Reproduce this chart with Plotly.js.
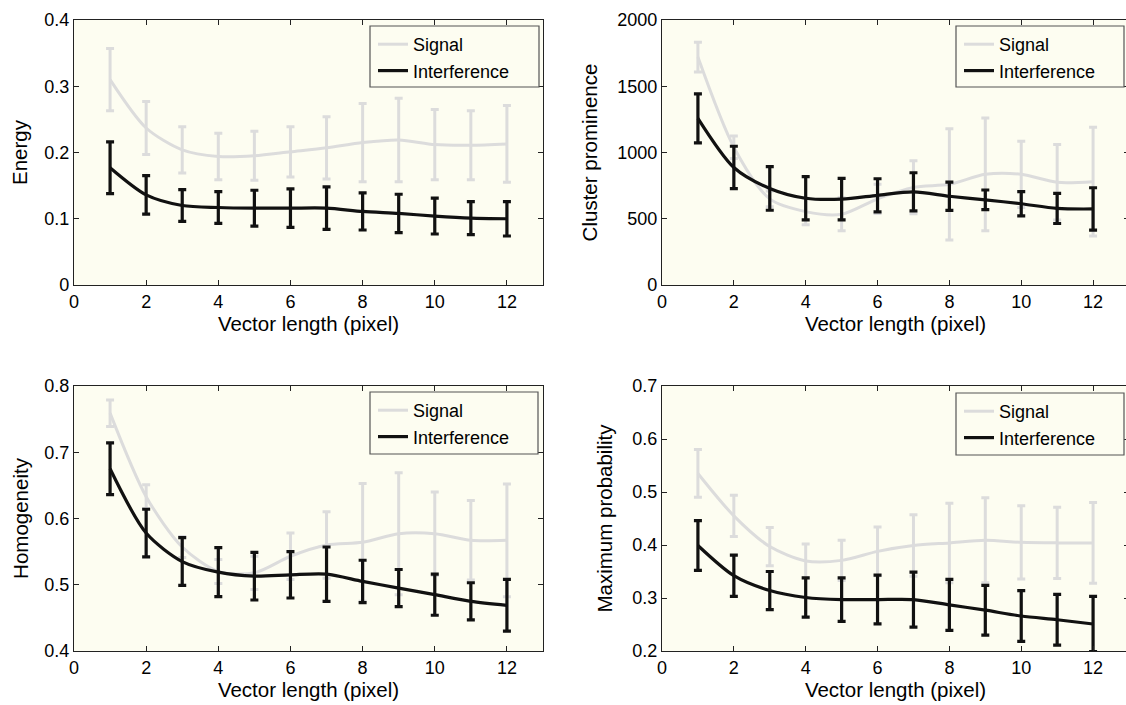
<!DOCTYPE html>
<html>
<head>
<meta charset="utf-8">
<script src="https://cdn.plot.ly/plotly-3.0.1.min.js"></script>
<style>
html,body{margin:0;padding:0;overflow:hidden;background:#fff;}
#chart{width:1130px;height:705px;}
</style>
</head>
<body>
<div id="chart"></div>
<script>
const xVals = [1,2,3,4,5,6,7,8,9,10,11,12];
const xTicks = [0,2,4,6,8,10,12];

const energySignal = [0.310,0.237,0.204,0.194,0.195,0.201,0.207,0.215,0.219,0.212,0.211,0.213];
const energySignalErr = [0.047,0.040,0.035,0.035,0.037,0.038,0.047,0.059,0.063,0.053,0.052,0.058];
const energyInterf = [0.177,0.136,0.120,0.117,0.116,0.116,0.116,0.111,0.108,0.104,0.101,0.100];
const energyInterfErr = [0.039,0.029,0.024,0.024,0.027,0.029,0.032,0.028,0.029,0.027,0.025,0.026];

const clusterSignal = [1720,1040,650,554,534,650,737,760,835,835,775,780];
const clusterSignalErr = [112,85,60,100,125,110,200,420,426,250,285,410];
const clusterInterf = [1258,887,729,655,648,677,703,670,643,613,578,574];
const clusterInterfErr = [185,160,165,163,157,125,144,107,74,92,114,160];

const homSignal = [0.759,0.633,0.557,0.520,0.518,0.543,0.560,0.564,0.577,0.577,0.567,0.567];
const homSignalErr = [0.020,0.018,0.016,0.018,0.025,0.035,0.050,0.089,0.092,0.063,0.060,0.085];
const homInterf = [0.675,0.578,0.535,0.519,0.513,0.515,0.516,0.505,0.495,0.485,0.475,0.469];
const homInterfErr = [0.039,0.036,0.036,0.037,0.036,0.035,0.041,0.032,0.028,0.031,0.028,0.039];

const maxSignal = [0.535,0.455,0.397,0.370,0.371,0.388,0.399,0.404,0.409,0.405,0.404,0.404];
const maxSignalErr = [0.045,0.039,0.036,0.032,0.038,0.046,0.058,0.075,0.080,0.069,0.067,0.076];
const maxInterf = [0.399,0.342,0.314,0.301,0.297,0.297,0.297,0.287,0.277,0.266,0.259,0.251];
const maxInterfErr = [0.047,0.039,0.036,0.037,0.041,0.046,0.052,0.048,0.047,0.048,0.048,0.052];

const seriesNames = ["Signal","Interference"];
const panelTitles = ["Energy","Cluster prominence","Homogeneity","Maximum probability"];
const xTitle = "Vector length (pixel)";

const W = 1130, H = 705;
const GRAY = "#dcdcdc", BLACK = "#111111", BG = "#fdfdf1";

const panels = [
  {sig: energySignal, sigE: energySignalErr, int: energyInterf, intE: energyInterfErr, range:[0,0.4], dtick:0.1},
  {sig: clusterSignal, sigE: clusterSignalErr, int: clusterInterf, intE: clusterInterfErr, range:[0,2000], dtick:500},
  {sig: homSignal, sigE: homSignalErr, int: homInterf, intE: homInterfErr, range:[0.4,0.8], dtick:0.1},
  {sig: maxSignal, sigE: maxSignalErr, int: maxInterf, intE: maxInterfErr, range:[0.2,0.7], dtick:0.1}
];

// pixel boxes [left,right,top,bottom]
const boxes = [[74,543,20,285],[662,1129,20,285],[74,543,386,651],[662,1129,386,651]];
// legend frames [left,right,top,bottom]
const legendBoxes = [[370,539,26,87],[956,1124,26,87],[370,538,392,454],[956,1124,393,455]];
const yStandoff = [11, 14, 10, 14];

const traces = [];
const shapes = [];
const layout = {
  width: W, height: H,
  margin: {l:0,r:0,t:0,b:0},
  paper_bgcolor: "#ffffff",
  plot_bgcolor: BG,
  font: {family: "Liberation Sans, Arial, sans-serif", color: "#000", size: 18},
  showlegend: true
};

panels.forEach((p, i) => {
  const n = i + 1;
  const sfx = n === 1 ? "" : String(n);
  const xa = "x" + sfx, ya = "y" + sfx;
  const lg = "legend" + sfx;
  traces.push({
    x: xVals, y: p.sig, type: "scatter", mode: "lines", name: seriesNames[0],
    xaxis: xa, yaxis: ya, legend: lg,
    line: {color: GRAY, width: 3, shape: "spline", smoothing: 0.8},
    error_y: {type: "data", array: p.sigE, visible: true, color: GRAY, thickness: 3, width: 4}
  });
  traces.push({
    x: xVals, y: p.int, type: "scatter", mode: "lines", name: seriesNames[1],
    xaxis: xa, yaxis: ya, legend: lg,
    line: {color: BLACK, width: 3.2, shape: "spline", smoothing: 0.8},
    error_y: {type: "data", array: p.intE, visible: true, color: BLACK, thickness: 3.2, width: 4}
  });
  const b = boxes[i];
  const axCommon = {
    showline: true, linecolor: "#222", linewidth: 1.2, mirror: "ticks",
    ticks: "inside", ticklen: 5, tickcolor: "#222", tickwidth: 1,
    showgrid: false, zeroline: false, fixedrange: true,
    tickfont: {size: 18, color: "#000"}
  };
  layout["xaxis" + sfx] = Object.assign({}, axCommon, {
    domain: [b[0]/W, b[1]/W], anchor: ya, range: [0,13],
    tickvals: xTicks, ticktext: xTicks.map(String),
    title: {text: xTitle, font: {size: 20.5}, standoff: 4}
  });
  layout["yaxis" + sfx] = Object.assign({}, axCommon, {
    domain: [(H-b[3])/H, (H-b[2])/H], anchor: xa, range: p.range, dtick: p.dtick,
    title: {text: panelTitles[i], font: {size: 20.5}, standoff: yStandoff[i]}
  });
  const lb = legendBoxes[i];
  shapes.push({
    type: "rect", xref: "paper", yref: "paper", layer: "above",
    x0: lb[0]/W, x1: lb[1]/W, y0: (H-lb[3])/H, y1: (H-lb[2])/H,
    fillcolor: BG, line: {color: "#555", width: 1.2}
  });
  layout[lg] = {
    x: (lb[0]+3)/W, y: (H-lb[2])/H, xanchor: "left", yanchor: "top",
    bgcolor: "rgba(0,0,0,0)", borderwidth: 0,
    font: {size: 18, color: "#000"}, tracegroupgap: 0
  };
});
layout.shapes = shapes;

Plotly.newPlot("chart", traces, layout, {displayModeBar: false, staticPlot: true});
</script>
</body>
</html>
